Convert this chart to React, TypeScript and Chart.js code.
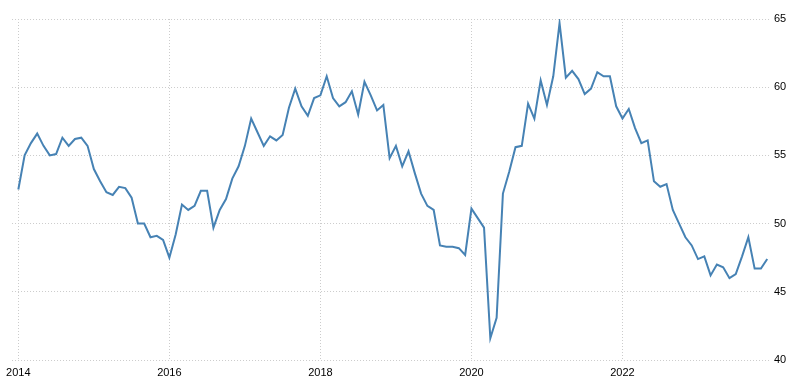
import React, { useEffect, useRef } from "react";
import { Chart, registerables } from "chart.js";

Chart.register(...registerables);

const startYear = 2014;
const yearTicks = ["2014", "2016", "2018", "2020", "2022"];
const yTicks = [40, 45, 50, 55, 60, 65];

const values2014 = [52.5, 55.0, 55.9, 56.6, 55.7, 55.0, 55.1, 56.3, 55.7, 56.2, 56.3, 55.7];
const values2015 = [54.0, 53.1, 52.3, 52.1, 52.7, 52.6, 51.9, 50.0, 50.0, 49.0, 49.1, 48.8];
const values2016 = [47.5, 49.2, 51.4, 51.0, 51.3, 52.4, 52.4, 49.7, 51.0, 51.8, 53.3, 54.2];
const values2017 = [55.7, 57.7, 56.7, 55.7, 56.4, 56.1, 56.5, 58.5, 59.9, 58.6, 57.9, 59.2];
const values2018 = [59.4, 60.8, 59.2, 58.6, 58.9, 59.7, 58.0, 60.4, 59.4, 58.3, 58.7, 54.8];
const values2019 = [55.7, 54.2, 55.3, 53.7, 52.2, 51.3, 51.0, 48.4, 48.3, 48.3, 48.2, 47.7];
const values2020 = [51.1, 50.4, 49.7, 41.6, 43.1, 52.2, 53.8, 55.6, 55.7, 58.8, 57.7, 60.5];
const values2021 = [58.7, 60.8, 64.7, 60.7, 61.2, 60.6, 59.5, 59.9, 61.1, 60.8, 60.8, 58.6];
const values2022 = [57.7, 58.4, 57.0, 55.9, 56.1, 53.1, 52.7, 52.9, 51.0, 50.0, 49.0, 48.4];
const values2023 = [47.4, 47.6, 46.2, 47.0, 46.8, 46.0, 46.3, 47.6, 49.0, 46.7, 46.7, 47.4];

const allValues = [
  ...values2014, ...values2015, ...values2016, ...values2017, ...values2018,
  ...values2019, ...values2020, ...values2021, ...values2022, ...values2023,
];

export default function App() {
  const canvasRef = useRef<HTMLCanvasElement | null>(null);

  useEffect(() => {
    document.body.style.margin = "0";
    const canvas = canvasRef.current;
    if (!canvas) return;
    const points = allValues.map((v, i) => ({ x: i, y: v }));
    const tickPositions = yearTicks.map((y) => (parseInt(y, 10) - startYear) * 12);
    const chart = new Chart(canvas, {
      type: "line",
      data: {
        datasets: [
          {
            data: points,
            borderColor: "#4682b4",
            borderWidth: 2,
            pointRadius: 0,
            tension: 0,
            fill: false,
          },
        ],
      },
      options: {
        animation: false,
        responsive: false,
        maintainAspectRatio: false,
        plugins: { legend: { display: false }, tooltip: { enabled: false } },
        layout: { padding: { top: 19, left: 12, right: 0, bottom: 0 } },
        scales: {
          x: {
            type: "linear",
            min: -1,
            max: 119.6,
            afterBuildTicks: (scale: any) => {
              scale.ticks = tickPositions.map((v) => ({ value: v }));
            },
            afterFit: (scale: any) => {
              scale.height = 26;
            },
            ticks: {
              autoSkip: false,
              maxRotation: 0,
              padding: 6,
              color: "#000",
              font: { family: "'Liberation Sans', Arial, sans-serif", size: 11 },
              callback: (v: any) => String(startYear + Math.round(Number(v) / 12)),
            },
            grid: { color: "#cccccc", drawTicks: false, lineWidth: 1 },
            border: { display: false, dash: [1, 2] },
          },
          y: {
            position: "right",
            min: 40,
            max: 65,
            afterBuildTicks: (scale: any) => {
              scale.ticks = yTicks.map((v) => ({ value: v }));
            },
            afterFit: (scale: any) => {
              scale.width = 32;
            },
            ticks: {
              padding: 3,
              color: "#000",
              font: { family: "'Liberation Sans', Arial, sans-serif", size: 11 },
            },
            grid: { color: "#cccccc", drawTicks: false, lineWidth: 1 },
            border: { display: false, dash: [1, 2] },
          },
        },
      },
    });
    return () => chart.destroy();
  }, []);

  return (
    <div style={{ width: 803, height: 386, background: "#fff" }}>
      <canvas ref={canvasRef} width={803} height={386} style={{ display: "block" }} />
    </div>
  );
}
